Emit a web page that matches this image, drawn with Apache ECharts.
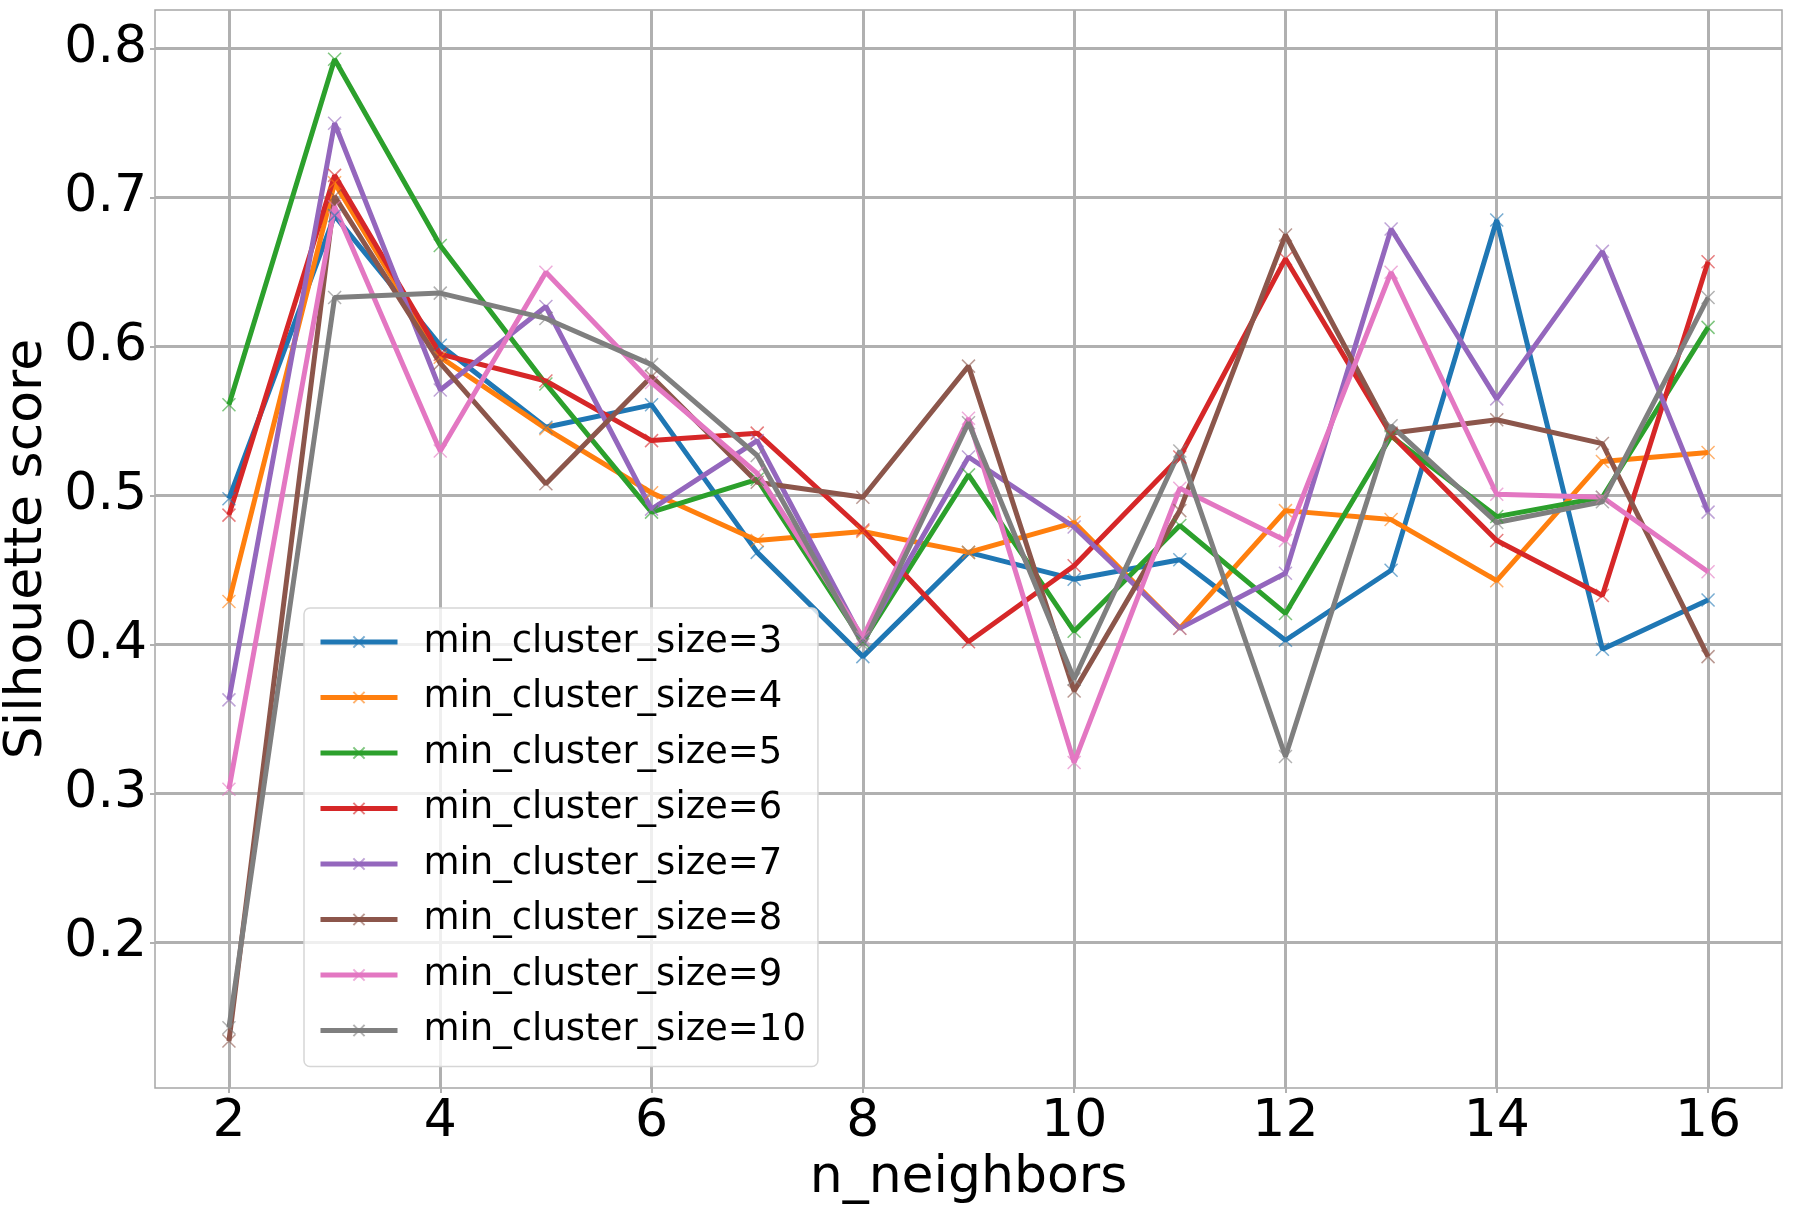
<!DOCTYPE html>
<html>
<head>
<meta charset="utf-8">
<script src="https://cdn.jsdelivr.net/npm/echarts@6/dist/echarts.min.js"></script>
<style>
  html, body {margin: 0; padding: 0; background: #fff;}
  #chart {width: 1793px; height: 1215px;}
</style>
</head>
<body>
<div id="chart"></div>
<script>
// n_neighbors on the x axis
const nNeighbors = [2, 3, 4, 5, 6, 7, 8, 9, 10, 11, 12, 13, 14, 15, 16]

// silhouette score per min_cluster_size
const mcs3 = [0.498, 0.688, 0.601, 0.546, 0.561, 0.462, 0.392, 0.462, 0.444, 0.457, 0.403, 0.450, 0.685, 0.397, 0.430]
const mcs4 = [0.429, 0.710, 0.593, 0.545, 0.502, 0.470, 0.476, 0.462, 0.482, 0.411, 0.490, 0.484, 0.443, 0.523, 0.529]
const mcs5 = [0.561, 0.793, 0.668, 0.575, 0.489, 0.511, 0.402, 0.514, 0.409, 0.480, 0.421, 0.540, 0.486, 0.499, 0.613]
const mcs6 = [0.487, 0.715, 0.595, 0.577, 0.537, 0.542, 0.477, 0.402, 0.453, 0.526, 0.659, 0.541, 0.470, 0.433, 0.657]
const mcs7 = [0.363, 0.750, 0.571, 0.627, 0.491, 0.537, 0.403, 0.526, 0.479, 0.411, 0.448, 0.679, 0.565, 0.664, 0.489]
const mcs8 = [0.134, 0.701, 0.589, 0.508, 0.580, 0.509, 0.499, 0.587, 0.369, 0.490, 0.675, 0.542, 0.551, 0.535, 0.392]
const mcs9 = [0.303, 0.694, 0.530, 0.650, 0.576, 0.515, 0.405, 0.552, 0.321, 0.505, 0.470, 0.650, 0.501, 0.499, 0.449]
const mcs10 = [0.143, 0.633, 0.636, 0.619, 0.588, 0.527, 0.400, 0.549, 0.377, 0.530, 0.325, 0.547, 0.482, 0.496, 0.633]

const seriesNames = [
    'min_cluster_size=3', 'min_cluster_size=4', 'min_cluster_size=5', 'min_cluster_size=6',
    'min_cluster_size=7', 'min_cluster_size=8', 'min_cluster_size=9', 'min_cluster_size=10',
]
const seriesValues = [mcs3, mcs4, mcs5, mcs6, mcs7, mcs8, mcs9, mcs10]

// tick labels
const xTicks = [2, 4, 6, 8, 10, 12, 14, 16]
const yTicks = [0.2, 0.3, 0.4, 0.5, 0.6, 0.7, 0.8]

const colors = ['#1f77b4', '#ff7f0e', '#2ca02c', '#d62728', '#9467bd', '#8c564b', '#e377c2', '#7f7f7f']
const font = 'DejaVu Sans'
const gridColor = '#b0b0b0'
const crossMark = 'path://M0,0L10,10M10,0L0,10'

const chart = echarts.init(document.getElementById('chart'))
chart.setOption({
    animation: false,
    backgroundColor: '#fff',
    color: colors,
    grid: {
        left: 155,
        right: 11,
        top: 10,
        bottom: 127,
        containLabel: false,
        outerBoundsMode: 'none',
        show: true,
        borderColor: '#a6a6a6',
        borderWidth: 1.5,
    },
    legend: {
        orient: 'vertical',
        left: 304,
        top: 608,
        padding: [12, 12, 14, 14],
        itemWidth: 77,
        itemHeight: 14,
        itemGap: 11.5,
        backgroundColor: 'rgba(255,255,255,0.8)',
        borderColor: '#d6d6d6',
        borderWidth: 1.5,
        borderRadius: 6,
        lineStyle: {width: 5},
        textStyle: {
            fontFamily: font,
            fontSize: 37,
            lineHeight: 44,
            color: '#000',
            padding: [0, 0, 0, 21],
        },
        data: seriesNames,
    },
    xAxis: {
        type: 'value',
        min: 1.3,
        max: 16.7,
        name: 'n_neighbors',
        nameLocation: 'middle',
        nameGap: 59,
        nameTextStyle: {fontFamily: font, fontSize: 52, color: '#000'},
        axisLine: {show: false},
        axisTick: {
            show: true,
            customValues: xTicks,
            length: 5,
            lineStyle: {color: gridColor, width: 2},
        },
        axisLabel: {
            customValues: xTicks,
            fontFamily: font,
            fontSize: 52,
            color: '#000',
            margin: 8,
        },
        splitLine: {show: true, lineStyle: {color: gridColor, width: 3}},
    },
    yAxis: {
        type: 'value',
        min: 0.1025,
        max: 0.826,
        name: 'Silhouette score',
        nameLocation: 'middle',
        nameGap: 87,
        nameTextStyle: {fontFamily: font, fontSize: 52, color: '#000'},
        axisLine: {show: false},
        axisTick: {
            show: true,
            customValues: yTicks,
            length: 5,
            lineStyle: {color: gridColor, width: 2},
        },
        axisLabel: {
            customValues: yTicks,
            fontFamily: font,
            fontSize: 52,
            color: '#000',
            margin: 8,
            formatter(v) {
                return v.toFixed(1)
            },
        },
        splitLine: {show: true, lineStyle: {color: gridColor, width: 3}},
    },
    series: seriesValues.map((vals, i) => {
        return {
            name: seriesNames[i],
            type: 'line',
            data: vals.map((v, j) => [nNeighbors[j], v]),
            symbol: crossMark,
            symbolSize: 13,
            showSymbol: true,
            lineStyle: {width: 5, color: colors[i]},
            itemStyle: {
                color: colors[i],
                borderColor: colors[i],
                borderWidth: 1.5,
                opacity: 0.6,
            },
            emphasis: {disabled: true},
        }
    }),
})
</script>
</body>
</html>
